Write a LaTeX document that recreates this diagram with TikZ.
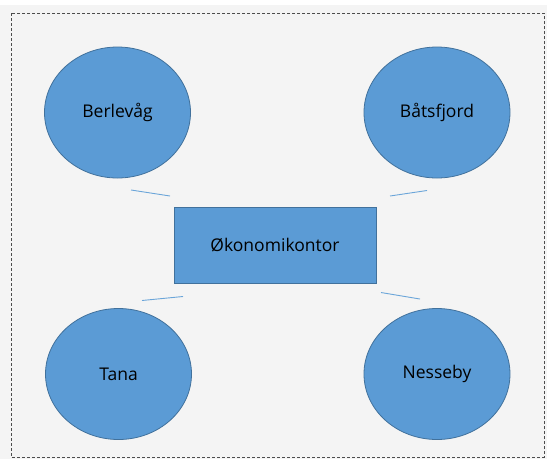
\documentclass[tikz,border=0pt]{standalone}
\usepackage{fontspec}
\setmainfont{Open Sans}
\usetikzlibrary{shapes.geometric, positioning}
\definecolor{kommuneblue}{RGB}{91, 155, 213}
\definecolor{kommuneedge}{RGB}{65, 113, 156}
\definecolor{bakgrunn}{RGB}{244, 244, 244}
\tikzset{
  kommune/.style={ellipse, draw=kommuneedge, fill=kommuneblue, line width=0.8pt,
    minimum width=146pt, minimum height=131pt, inner sep=0pt, font=\fontsize{17.5}{20}\selectfont},
  kontor/.style={rectangle, draw=kommuneedge, fill=kommuneblue, line width=0.8pt,
    minimum width=202pt, minimum height=76pt, inner sep=0pt, font=\fontsize{17.5}{20}\selectfont},
  forbindelse/.style={draw=kommuneblue!90!white, line width=0.9pt}
}
\begin{document}
\begin{tikzpicture}[x=1pt, y=-1pt]
                \useasboundingbox (0,0) rectangle (547,459);
                \fill[bakgrunn] (0,5) rectangle (547,459);
                \draw[gray!60!black, dash pattern=on 3pt off 2pt, line width=0.6pt] (11,13) rectangle (544,457);
                \node[kommune] (berlevag) at (117.5,112.5) {Berlevåg};
                \node[kommune] (batsfjord) at (437,112.5) {Båtsfjord};
                \node[kommune] (tana) at (118.5,374) {Tana};
                \node[kommune] (nesseby) at (437,374) {Nesseby};
                \node[kontor] (okonomi) at (275,245) {Økonomikontor};
                % korte linjer mellom kommunene og kontoret
                \coordinate (bl1) at (131,190);
                \coordinate (bl2) at (170,196);
                \coordinate (br1) at (390,196);
                \coordinate (br2) at (427,190.5);
                \coordinate (tl1) at (142,300.5);
                \coordinate (tl2) at (183,296.5);
                \coordinate (nr1) at (381,292.5);
                \coordinate (nr2) at (420,299);
                \draw[forbindelse] (bl1) -- (bl2);
                \draw[forbindelse] (br1) -- (br2);
                \draw[forbindelse] (tl1) -- (tl2);
                \draw[forbindelse] (nr1) -- (nr2);
            \end{tikzpicture}
\end{document}
